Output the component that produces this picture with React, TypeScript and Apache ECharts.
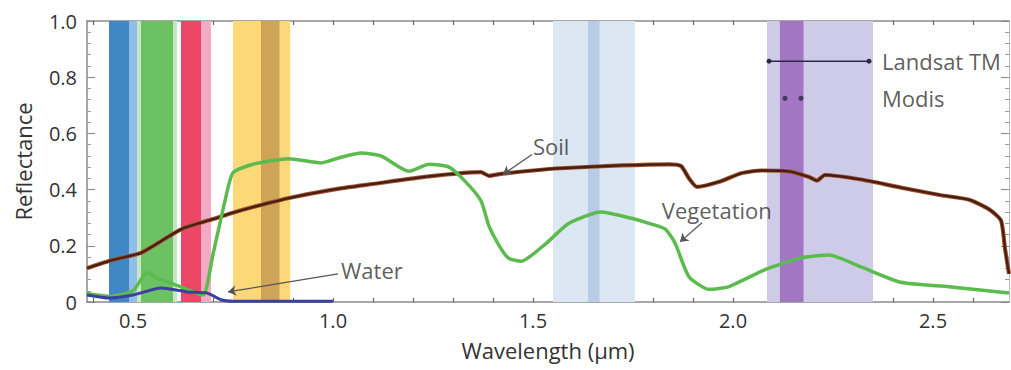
import React, { useEffect, useRef } from "react";
import * as echarts from "echarts";

// Axis ticks / labels
const xLabelValues = [0.5, 1.0, 1.5, 2.0, 2.5];
const xTickValues = [0.4, 0.5, 0.6, 0.7, 0.8, 0.9, 1.0, 1.1, 1.2, 1.3, 1.4, 1.5, 1.6, 1.7, 1.8, 1.9, 2.0, 2.1, 2.2, 2.3, 2.4, 2.5, 2.6];
const xMin = 0.385;
const xMax = 2.69;

// Reflectance curves [wavelength µm, reflectance]
const soil: number[][] = [
  [0.385, 0.12], [0.45, 0.15], [0.52, 0.175], [0.58, 0.225], [0.625, 0.262], [0.7, 0.295],
  [0.75, 0.318], [0.8, 0.338], [0.89, 0.37], [1.0, 0.4], [1.1, 0.42], [1.24, 0.447],
  [1.37, 0.462], [1.39, 0.449], [1.42, 0.456], [1.5, 0.468], [1.57, 0.476], [1.72, 0.486],
  [1.84, 0.49], [1.87, 0.484], [1.89, 0.44], [1.91, 0.41], [1.97, 0.43], [2.02, 0.458],
  [2.07, 0.468], [2.14, 0.465], [2.19, 0.445], [2.21, 0.432], [2.23, 0.452], [2.32, 0.436],
  [2.42, 0.407], [2.52, 0.38], [2.59, 0.364], [2.64, 0.33], [2.67, 0.29], [2.68, 0.19], [2.69, 0.1],
];
const vegetation: number[][] = [
  [0.385, 0.03], [0.44, 0.02], [0.5, 0.04], [0.535, 0.105], [0.56, 0.085], [0.59, 0.07],
  [0.635, 0.045], [0.675, 0.025], [0.7, 0.17], [0.73, 0.36], [0.75, 0.46], [0.8, 0.49],
  [0.89, 0.51], [0.97, 0.495], [1.02, 0.515], [1.07, 0.53], [1.12, 0.52], [1.19, 0.465],
  [1.24, 0.49], [1.29, 0.48], [1.33, 0.43], [1.37, 0.36], [1.39, 0.27], [1.42, 0.19],
  [1.44, 0.155], [1.47, 0.145], [1.53, 0.205], [1.59, 0.28], [1.67, 0.32], [1.74, 0.3],
  [1.79, 0.28], [1.83, 0.26], [1.855, 0.21], [1.89, 0.09], [1.94, 0.045], [1.99, 0.055],
  [2.08, 0.115], [2.17, 0.157], [2.24, 0.167], [2.32, 0.125], [2.42, 0.07], [2.54, 0.054], [2.69, 0.032],
];
const water: number[][] = [
  [0.385, 0.025], [0.44, 0.014], [0.5, 0.025], [0.57, 0.05], [0.635, 0.036], [0.685, 0.032],
  [0.72, 0.008], [0.75, 0.003], [1.0, 0.003],
];

// Sensor bands [start, end, colour]
const bands: [number, number, string][] = [
  [0.44, 0.49, "#3f88c5"],
  [0.49, 0.51, "#8fbfe8"],
  [0.51, 0.52, "#c9e6c2"],
  [0.52, 0.6, "#6cc163"],
  [0.6, 0.61, "#c9e6c2"],
  [0.62, 0.67, "#ec4766"],
  [0.67, 0.695, "#f3aac4"],
  [0.75, 0.82, "#fcd879"],
  [0.82, 0.867, "#cfa457"],
  [0.867, 0.893, "#fcd879"],
  [1.55, 1.637, "#dce7f4"],
  [1.637, 1.667, "#b8cce8"],
  [1.667, 1.755, "#dce7f4"],
  [2.085, 2.117, "#cecbe8"],
  [2.117, 2.177, "#a276c3"],
  [2.177, 2.35, "#cecbe8"],
];

// Legend-like annotations
const landsatLine: number[][] = [[2.09, 0.857], [2.34, 0.857]];
const modisDots: number[][] = [[2.13, 0.725], [2.17, 0.725]];
const textLabels = [
  { name: "Landsat TM", value: [2.3725, 0.857] },
  { name: "Modis", value: [2.3725, 0.725] },
  { name: "Soil", value: [1.5, 0.556] },
  { name: "Vegetation", value: [1.822, 0.329] },
  { name: "Water", value: [1.02, 0.114] },
];
const arrows: number[][][] = [
  [[1.4975, 0.525], [1.425, 0.454]],
  [[1.9225, 0.282], [1.8675, 0.214]],
  [[1.0125, 0.1], [0.7375, 0.036]],
];

const FONT = '"Open Sans", sans-serif';
const TEXT = "#333333";
const AXIS = "#8a8a8a";

export default function App() {
  const ref = useRef<HTMLDivElement>(null);
  useEffect(() => {
    if (!ref.current) return;
    const chart = echarts.init(ref.current, undefined, { renderer: "svg" });
    const xCommon = {
      type: "value" as const,
      min: xMin,
      max: xMax,
      splitLine: { show: false },
      axisLine: { show: true, onZero: false, lineStyle: { color: AXIS, width: 1.5 } },
      axisTick: { show: true, inside: true, length: 4, customValues: xTickValues, lineStyle: { color: "#666", width: 1.2 } },
    };
    const yCommon = {
      type: "value" as const,
      min: 0,
      max: 1,
      interval: 0.2,
      splitLine: { show: false },
      axisLine: { show: true, lineStyle: { color: AXIS, width: 1.5 } },
      axisTick: { show: true, inside: true, length: 8, lineStyle: { color: "#888" } },
      minorTick: { show: true, splitNumber: 5, length: 4, lineStyle: { color: "#999" } },
    };
    chart.setOption({
      animation: false,
      backgroundColor: "#ffffff",
      textStyle: { fontFamily: FONT },
      grid: { left: 87, right: 2, top: 21, bottom: 68 },
      xAxis: [
        {
          ...xCommon,
          position: "bottom",
          name: "Wavelength (µm)",
          nameLocation: "middle",
          nameGap: 37,
          nameTextStyle: { fontFamily: FONT, fontSize: 22, color: TEXT },
          axisLabel: {
            show: true,
            customValues: xLabelValues,
            margin: 8,
            fontFamily: FONT,
            fontSize: 20,
            color: TEXT,
            formatter: (v: number) => v.toFixed(1),
          },
        },
        {
          ...xCommon,
          position: "top",
          axisLabel: { show: false },
        },
      ],
      yAxis: [
        {
          ...yCommon,
          position: "left",
          name: "Reflectance",
          nameLocation: "middle",
          nameGap: 53,
          nameTextStyle: { fontFamily: FONT, fontSize: 22, color: TEXT },
          axisLabel: {
            margin: 10,
            fontFamily: FONT,
            fontSize: 20,
            color: TEXT,
            formatter: (v: number) => (v === 0 ? "0" : v.toFixed(1)),
          },
        },
        {
          ...yCommon,
          position: "right",
          axisLine: { show: true, lineStyle: { color: "#bbb", width: 1 } },
          axisLabel: { show: false },
        },
      ],
      series: [
        {
          name: "bands",
          type: "line",
          data: [],
          silent: true,
          markArea: {
            silent: true,
            data: bands.map(([a, b, c]) => [
              { xAxis: a, itemStyle: { color: c, opacity: 1 } },
              { xAxis: b },
            ]),
          },
        },
        {
          name: "soil-halo",
          type: "line",
          data: soil,
          showSymbol: false,
          smooth: 0.2,
          lineStyle: { color: "#9c5634", width: 4.2 },
          z: 3,
        },
        {
          name: "soil",
          type: "line",
          data: soil,
          showSymbol: false,
          smooth: 0.2,
          lineStyle: { color: "#4b1d0f", width: 2.3 },
          z: 4,
        },
        {
          name: "vegetation",
          type: "line",
          data: vegetation,
          showSymbol: false,
          smooth: 0.2,
          lineStyle: { color: "#5cbb4e", width: 3.5 },
          z: 5,
        },
        {
          name: "water",
          type: "line",
          data: water,
          showSymbol: false,
          smooth: 0.2,
          lineStyle: { color: "#3b3f9e", width: 3 },
          z: 6,
        },
        {
          name: "landsat",
          type: "line",
          data: landsatLine,
          symbol: "circle",
          symbolSize: 5,
          itemStyle: { color: "#2c2845" },
          lineStyle: { color: "#2c2845", width: 1.5 },
          z: 7,
        },
        {
          name: "modis",
          type: "scatter",
          data: modisDots,
          symbolSize: 5,
          itemStyle: { color: "#2c2845" },
          z: 7,
        },
        {
          name: "labels",
          type: "scatter",
          data: textLabels,
          symbolSize: 0,
          z: 8,
          label: {
            show: true,
            position: "right",
            distance: 0,
            formatter: "{b}",
            fontFamily: FONT,
            fontSize: 22,
            color: TEXT,
          },
          markLine: {
            silent: true,
            symbol: ["none", "arrow"],
            symbolSize: 8,
            label: { show: false },
            lineStyle: { color: "#555", width: 1.3, type: "solid" },
            data: arrows.map(([s, e]) => [{ coord: s }, { coord: e }]),
          },
        },
      ],
    });
    return () => chart.dispose();
  }, []);
  return (
    <div
      ref={ref}
      style={{ position: "fixed", left: 0, top: 0, width: 1011, height: 370, background: "#fff" }}
    />
  );
}
